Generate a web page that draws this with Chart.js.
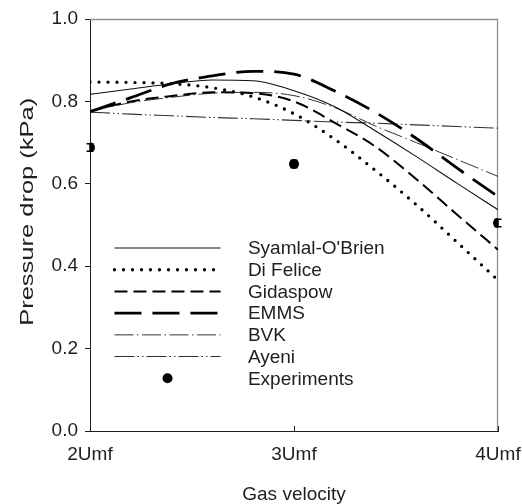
<!DOCTYPE html>
<html>
<head>
<meta charset="utf-8">
<script src="https://cdn.jsdelivr.net/npm/chart.js@4"></script>
<style>
  html, body { margin: 0; padding: 0; background: #fff; }
  #wrap { width: 522px; height: 504px; }
</style>
</head>
<body>
<div id="wrap"><canvas id="chart"></canvas></div>
<script>
// gas velocity in multiples of Umf
const velocity = [2, 2.2, 2.4, 2.6, 2.8, 3, 3.2, 3.4, 3.6, 3.8, 4];
const syamlal  = [0.817, 0.830, 0.843, 0.852, 0.850, 0.826, 0.787, 0.728, 0.666, 0.601, 0.537];
const diFelice = [0.847, 0.846, 0.843, 0.833, 0.811, 0.770, 0.708, 0.632, 0.549, 0.458, 0.366];
const gidaspow = [0.776, 0.800, 0.813, 0.822, 0.820, 0.800, 0.748, 0.690, 0.611, 0.525, 0.440];
const emms     = [0.775, 0.809, 0.843, 0.862, 0.873, 0.866, 0.825, 0.773, 0.710, 0.638, 0.569];
const bvk      = [0.776, 0.797, 0.810, 0.820, 0.822, 0.814, 0.785, 0.740, 0.700, 0.659, 0.618];
const ayeni    = [0.774, 0.769, 0.765, 0.761, 0.758, 0.754, 0.750, 0.747, 0.743, 0.739, 0.735];

const expVelocity = [2, 3, 4];
const experiments = [0.688, 0.648, 0.505];
const expError    = [0.009, 0.009, 0.009];

const xTickValues = [2, 3, 4];
const xTickLabels = ['2Umf', '3Umf', '4Umf'];
const yTickValues = [0, 0.2, 0.4, 0.6, 0.8, 1.0];
const yTitle = 'Pressure drop (kPa)';

const FONT = 'Liberation Sans, Arial, sans-serif';
const INK = '#1e1e1e';

const pts = arr => arr.map((v, i) => ({ x: velocity[i], y: v }));
const curve = (label, data, width, dash, color, cap) => ({
  label, data: pts(data), borderColor: color || '#000', borderWidth: width,
  borderDash: dash, borderCapStyle: cap || 'butt', pointRadius: 0,
  cubicInterpolationMode: 'monotone', fill: false,
});

const decor = {
  id: 'decor',
  beforeDatasetsDraw(chart) {
    const { ctx, chartArea: a } = chart;
    ctx.save();
    ctx.strokeStyle = '#909090';
    ctx.lineWidth = 1.3;
    ctx.beginPath();
    ctx.moveTo(a.left, a.top + 0.5);
    ctx.lineTo(a.right - 0.5, a.top + 0.5);
    ctx.lineTo(a.right - 0.5, a.bottom);
    ctx.stroke();
    // y axis title, drawn a bit stretched like the original
    ctx.fillStyle = INK;
    ctx.font = '19px ' + FONT;
    ctx.textAlign = 'center';
    ctx.textBaseline = 'middle';
    const tw = ctx.measureText(yTitle).width;
    ctx.translate(28, a.top + (a.bottom - a.top) * 0.468);
    ctx.rotate(-Math.PI / 2);
    ctx.scale(228 / tw, 1);
    ctx.fillText(yTitle, 0, 0);
    ctx.restore();
  },
  afterDatasetsDraw(chart) {
    const { ctx, chartArea: a, scales: { x, y } } = chart;
    ctx.save();
    // inward x ticks
    ctx.strokeStyle = INK; ctx.lineWidth = 1;
    xTickValues.forEach(v => {
      const px = Math.round(x.getPixelForValue(v)) + 0.5;
      ctx.beginPath(); ctx.moveTo(px, a.bottom); ctx.lineTo(px, a.bottom - 5); ctx.stroke();
    });
    // error bars
    ctx.strokeStyle = '#000'; ctx.lineWidth = 1.5;
    expVelocity.forEach((v, i) => {
      const px = x.getPixelForValue(v);
      const y1 = y.getPixelForValue(experiments[i] - expError[i]);
      const y2 = y.getPixelForValue(experiments[i] + expError[i]);
      ctx.beginPath();
      ctx.moveTo(px, y1); ctx.lineTo(px, y2);
      ctx.moveTo(px - 3.5, y1); ctx.lineTo(px + 3.5, y1);
      ctx.moveTo(px - 3.5, y2); ctx.lineTo(px + 3.5, y2);
      ctx.stroke();
    });
    // legend inside plot
    const w = a.right - a.left, h = a.bottom - a.top;
    const x1 = a.left + w * 0.06, x2 = a.left + w * 0.32, tx = a.left + w * 0.387;
    ctx.font = '19px ' + FONT;
    ctx.textBaseline = 'middle';
    chart.data.datasets.forEach((ds, i) => {
      const ry = a.top + h * 0.556 + i * 21.7;
      if (ds.showLine === false) {
        ctx.fillStyle = '#000';
        ctx.beginPath(); ctx.arc((x1 + x2) / 2, ry, 5, 0, Math.PI * 2); ctx.fill();
      } else {
        ctx.strokeStyle = ds.borderColor; ctx.lineWidth = ds.borderWidth;
        ctx.setLineDash(ds.borderDash || []); ctx.lineCap = ds.borderCapStyle;
        ctx.beginPath(); ctx.moveTo(x1, ry); ctx.lineTo(x2, ry); ctx.stroke();
        ctx.setLineDash([]); ctx.lineCap = 'butt';
      }
      ctx.fillStyle = INK;
      ctx.fillText(ds.label, tx, ry + 1);
    });
    ctx.restore();
  }
};

new Chart(document.getElementById('chart'), {
  type: 'line',
  data: {
    datasets: [
      curve('Syamlal-O\'Brien', syamlal, 1.1, [], '#111'),
      curve('Di Felice', diFelice, 3.3, [0, 9], '#000', 'round'),
      curve('Gidaspow', gidaspow, 2, [13, 6], '#000'),
      curve('EMMS', emms, 2.8, [27, 11], '#000'),
      curve('BVK', bvk, 1, [19, 3.5, 1.5, 3.5], '#333'),
      curve('Ayeni', ayeni, 1.1, [20, 3, 1.5, 3, 1.5, 3], '#333'),
      {
        label: 'Experiments',
        data: expVelocity.map((v, i) => ({ x: v, y: experiments[i] })),
        showLine: false, pointRadius: 5, pointBackgroundColor: '#000',
        pointBorderColor: '#000', pointBorderWidth: 0,
      },
    ],
  },
  options: {
    responsive: true,
    maintainAspectRatio: false,
    animation: false,
    events: [],
    layout: { padding: { top: 19, right: 24, left: 0, bottom: 0 } },
    plugins: { legend: { display: false }, tooltip: { enabled: false } },
    scales: {
      x: {
        type: 'linear', min: 2, max: 4,
        afterBuildTicks: s => { s.ticks = xTickValues.map(v => ({ value: v })); },
        afterFit: s => { s.height = 73; s.paddingLeft = 0; s.paddingRight = 0; },
        grid: { display: true, drawOnChartArea: false, drawTicks: false },
        border: { color: INK, width: 1 },
        ticks: {
          padding: 12, color: INK, font: { family: FONT, size: 19 },
          maxRotation: 0, autoSkip: false,
          callback: v => xTickLabels[xTickValues.indexOf(v)],
        },
        title: {
          display: true, text: 'Gas velocity', color: INK,
          font: { family: FONT, size: 19, lineHeight: 1 }, padding: { top: 0, bottom: 0 },
        },
      },
      y: {
        min: 0, max: 1,
        afterBuildTicks: s => { s.ticks = yTickValues.map(v => ({ value: v })); },
        afterFit: s => { s.width = 90; s.paddingTop = 0; s.paddingBottom = 0; },
        grid: { drawOnChartArea: false, drawTicks: true, tickLength: 5, tickColor: INK },
        border: { color: INK, width: 1 },
        ticks: {
          padding: 7, color: INK, font: { family: FONT, size: 19 },
          callback: v => v.toFixed(1),
        },
        title: { display: false, text: yTitle },
      },
    },
  },
  plugins: [decor],
});
</script>
</body>
</html>
